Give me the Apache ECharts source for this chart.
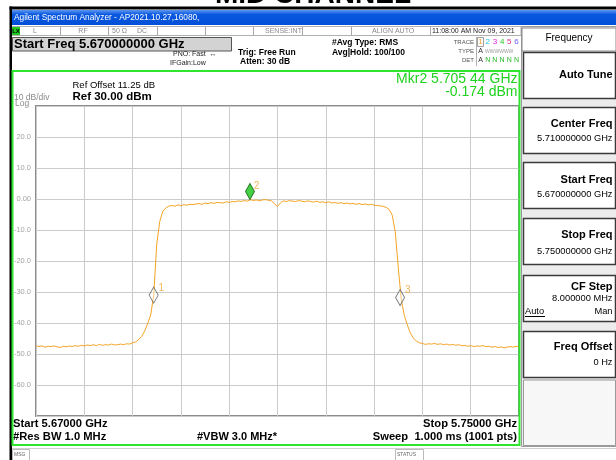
<!DOCTYPE html>
<html><head><meta charset="utf-8">
<script src="https://cdn.jsdelivr.net/npm/echarts@6/dist/echarts.min.js"></script>
<style>html,body{margin:0;padding:0;background:#fff;overflow:hidden}#c{width:616px;height:460px}</style>
</head><body><div id="c"></div>
<script>
// ---- data ----
const sweepStartGHz = 5.67;
const sweepStopGHz = 5.75;
const pointSpacingGHz = 0.0005;
const traceLevels = [
 -47.3,-47.6,-47.4,-47.8,-47.5,-47.6,-47.4,-47.7,-47.9,-47.5,
 -47.7,-47.4,-47.6,-47.3,-47.5,-47.2,-47.4,-47.1,-47.3,-47.0,
 -47.3,-46.9,-47.2,-47.0,-47.1,-46.8,-47.1,-47.0,-46.8,-47.0,
 -46.7,-46.8,-46.4,-46.1,-45.4,-44.3,-42.6,-40.2,-37.4,-31.0,
 -14.5,-7.2,-4.0,-2.9,-2.3,-2.1,-2.3,-1.9,-2.2,-1.8,
 -2.0,-1.7,-1.8,-1.6,-1.5,-1.7,-1.3,-1.5,-1.2,-1.4,
 -1.1,-1.2,-1.3,-0.9,-1.1,-0.8,-0.9,-0.6,-0.8,-0.5,
 -0.7,-0.2,-0.5,-0.3,-0.6,-0.3,-0.2,-0.4,-0.6,-1.5,
 -2.4,-1.2,-0.6,-0.8,-0.5,-0.7,-0.8,-0.5,-0.7,-0.9,
 -0.6,-0.8,-1.0,-0.7,-1.1,-0.9,-1.2,-0.9,-1.3,-1.1,
 -1.4,-1.2,-1.5,-1.3,-1.6,-1.4,-1.7,-1.5,-1.8,-1.6,
 -1.9,-1.7,-2.0,-2.1,-2.2,-2.4,-2.7,-3.4,-5.2,-10.5,
 -22.0,-32.5,-37.5,-40.6,-43.2,-44.9,-45.8,-46.4,-46.6,-46.9,
 -46.7,-46.8,-46.6,-46.9,-46.7,-47.0,-46.8,-47.1,-46.9,-47.2,
 -47.0,-47.3,-47.2,-47.5,-47.3,-47.6,-47.4,-47.5,-47.3,-47.6,
 -47.5,-47.8,-47.6,-47.9,-47.7,-48.0,-47.8,-47.6,-47.8,-47.5,
 -47.6
];
const markerFreqs = [5.68949, 5.70544, 5.73030];
const markerLevels = [-31.0, -0.174, -31.8];
const markerNames = ['1', '2', '3'];
const yTickValues = [30, 20, 10, 0, -10, -20, -30, -40, -50, -60, -70];
const yTickLabels = ['', '20.0', '10.0', '0.00', '-10.0', '-20.0', '-30.0', '-40.0', '-50.0', '-60.0', ''];

// ---- build ----
const traceData = traceLevels.map((v, i) => [sweepStartGHz + i * pointSpacingGHz, v]);
const FONT = '"Liberation Sans", Arial, sans-serif';
function T(text, x, y, size, o) {
  o = o || {};
  return {type: 'text', x: x, y: y, z: o.z || 30, silent: true,
    style: {text: text, fill: o.color || '#000', font: (o.bold ? 'bold ' : '') + size + 'px ' + FONT,
      align: o.align || 'left', verticalAlign: 'middle'}};
}
function R(x, y, w, h, fill, stroke, lw, z) {
  return {type: 'rect', z: z || 5, silent: true, shape: {x: x, y: y, width: w, height: h},
    style: {fill: fill || 'none', stroke: stroke || 'none', lineWidth: lw || 1}};
}
function L(x1, y1, x2, y2, stroke, lw, z) {
  return {type: 'line', z: z || 6, silent: true, shape: {x1: x1, y1: y1, x2: x2, y2: y2},
    style: {stroke: stroke, lineWidth: lw || 1}};
}

const g = [];
// top title strip
g.push(T('MID CHANNEL', 313, -5, 28, {bold: true, align: 'center'}));
g.push(R(9.5, 6.5, 607, 3, '#000', null, 1, 8));
g.push(R(9.5, 6.5, 2.5, 454, '#000', null, 1, 8));
g.push({type: 'rect', z: 5, silent: true, shape: {x: 12, y: 10, width: 604, height: 15},
  style: {fill: {type: 'linear', x: 0, y: 0, x2: 0, y2: 1, colorStops: [
    {offset: 0, color: '#5c97f2'}, {offset: 0.3, color: '#0a58e0'}, {offset: 1, color: '#004fd6'}]}}});
g.push(T('Agilent Spectrum Analyzer - AP2021.10.27,16080,', 14, 17.5, 8.3, {color: '#fff'}));
// status row
g.push(R(12, 26.5, 509, 9, '#fff', '#b0b0b0', 1));
[60, 108, 157, 205, 253, 302, 351, 430].forEach(x => g.push(L(x + 0.5, 27, x + 0.5, 35.5, '#a8a8a8', 1)));
g.push(R(12, 27, 8, 8, '#22c822'));
g.push(T('LX', 16, 31.5, 6, {bold: true, align: 'center'}));
g.push(T('L', 35, 31.5, 7, {color: '#8a8a8a', align: 'center'}));
g.push(T('RF', 83, 31.5, 7, {color: '#8a8a8a', align: 'center'}));
g.push(T('50 Ω', 112, 31.5, 7, {color: '#8a8a8a'}));
g.push(T('DC', 137, 31.5, 7, {color: '#8a8a8a'}));
g.push(T('SENSE:INT', 265, 31.5, 7, {color: '#8a8a8a'}));
g.push(T('ALIGN AUTO', 372, 31.5, 7, {color: '#8a8a8a'}));
g.push(T('11:08:00 AM Nov 09, 2021', 432, 31.5, 7, {color: '#222'}));
// start freq box
g.push(R(12.5, 37.5, 219, 13.5, '#d3d3d3', '#555', 1));
g.push(T('Start Freq 5.670000000 GHz', 14, 44.5, 13, {bold: true}));
g.push(T('PNO: Fast  ↔', 173, 54.5, 7, {color: '#222'}));
g.push(T('IFGain:Low', 170, 63, 7, {color: '#222'}));
g.push(T('Trig: Free Run', 238, 52.5, 8.5, {bold: true}));
g.push(T('Atten: 30 dB', 240, 62, 8.5, {bold: true}));
g.push(T('#Avg Type: RMS', 332, 42.5, 8.5, {bold: true}));
g.push(T('Avg|Hold: 100/100', 332, 52.5, 8.5, {bold: true}));
g.push(T('TRACE', 474, 42, 6, {color: '#555', align: 'right'}));
g.push(T('TYPE', 474, 51.5, 6, {color: '#555', align: 'right'}));
g.push(T('DET', 474, 60.5, 6, {color: '#555', align: 'right'}));
g.push(L(476.5, 37, 476.5, 66, '#b0b0b0', 1));
g.push(R(477.5, 37.5, 6, 9, null, '#a0a0a0', 1));
const trCols = ['#f0a020', '#18c8d8', '#e020e0', '#28c828', '#e0308a', '#6a5cff'];
trCols.forEach((c, i) => g.push(T(String(i + 1), 480.5 + i * 7.2, 42, 8, {color: c, align: 'center'})));
g.push(T('A', 480.5, 51.5, 7, {color: '#333', align: 'center'}));
g.push(T('WWWWWW', 485, 51.5, 5, {color: '#9a9a9a'}));
g.push(T('A', 480.5, 60.5, 7, {color: '#333', align: 'center'}));
[0, 1, 2, 3, 4].forEach(i => g.push(T('N', 487.7 + i * 7.2, 60.5, 7, {color: '#22b822', align: 'center'})));
// ref / marker text
g.push(T('Ref Offset 11.25 dB', 72.5, 85.5, 9.5));
g.push(T('Ref 30.00 dBm', 72.5, 96.5, 11.5, {bold: true}));
g.push(T('10 dB/div', 14, 98, 8.5, {color: '#8a8a8a'}));
g.push(T('Log', 15, 104, 8.5, {color: '#8a8a8a'}));
g.push(T('Mkr2 5.705 44 GHz', 517.5, 79, 14, {color: '#1ed21e', align: 'right'}));
g.push(T('-0.174 dBm', 517.5, 92, 14, {color: '#1ed21e', align: 'right'}));
// bottom annotations
g.push(T('Start 5.67000 GHz', 13, 424, 11.2, {bold: true}));
g.push(T('#Res BW 1.0 MHz', 13, 437, 11.2, {bold: true}));
g.push(T('#VBW 3.0 MHz*', 197, 437, 11, {bold: true}));
g.push(T('Stop 5.75000 GHz', 517, 424, 11.2, {bold: true, align: 'right'}));
g.push(T('Sweep  1.000 ms (1001 pts)', 517, 437, 11.2, {bold: true, align: 'right'}));
// green frame
g.push(R(12.5, 71, 507, 374, null, '#2ee62e', 2, 50));
// msg/status
g.push(L(12, 448.5, 616, 448.5, '#cfcfcf', 1));
g.push(R(12.5, 449.5, 17, 11, null, '#bbb', 1));
g.push(T('MSG', 14, 455, 5, {color: '#666'}));
g.push(R(395.5, 449.5, 28, 11, null, '#bbb', 1));
g.push(T('STATUS', 397, 455, 5, {color: '#666'}));
// softkey panel
g.push(R(521.5, 26.5, 95, 420, '#ececec', '#9a9a9a', 1));
g.push(R(522, 28, 94, 23, '#fff', '#8a8a8a', 1));
g.push(T('Frequency', 569, 38, 10, {align: 'center'}));
const keyTops = [52, 107, 162, 218, 275, 331];
keyTops.forEach(t => g.push(R(523.5, t + 0.5, 92, 46, '#fff', '#3a3a3a', 1.5, 7)));
g.push(R(523.5, 380, 92, 65.5, '#f7f7f7', '#9a9a9a', 1, 7));
const KX = 612.5;
g.push(T('Auto Tune', KX, 75, 11, {bold: true, align: 'right'}));
g.push(T('Center Freq', KX, 124, 11, {bold: true, align: 'right'}));
g.push(T('5.710000000 GHz', KX, 138, 9.3, {align: 'right'}));
g.push(T('Start Freq', KX, 180, 11, {bold: true, align: 'right'}));
g.push(T('5.670000000 GHz', KX, 194.5, 9.3, {align: 'right'}));
g.push(T('Stop Freq', KX, 235, 11, {bold: true, align: 'right'}));
g.push(T('5.750000000 GHz', KX, 251, 9.3, {align: 'right'}));
g.push(T('CF Step', KX, 287, 11, {bold: true, align: 'right'}));
g.push(T('8.000000 MHz', KX, 298.5, 9.3, {align: 'right'}));
g.push(T('Auto', 525, 311, 9.3));
g.push(L(525, 316.5, 545, 316.5, '#000', 1, 31));
g.push(T('Man', KX, 311, 9.3, {align: 'right'}));
g.push(T('Freq Offset', KX, 347, 11, {bold: true, align: 'right'}));
g.push(T('0 Hz', KX, 362, 9.3, {align: 'right'}));

const mkData = markerFreqs.map((f, i) => ({
  value: [f, markerLevels[i]],
  name: markerNames[i],
  symbolOffset: i === 1 ? [0, -8] : [0, 0],
  itemStyle: i === 1 ? {color: '#18c418', borderColor: '#0b5e0b', borderWidth: 1}
                     : {color: 'rgba(255,255,255,0.5)', borderColor: '#5a5a5a', borderWidth: 1},
  label: {offset: i === 1 ? [-2, -5] : [-1, -7]}
}));

const chart = echarts.init(document.getElementById('c'), null, {renderer: 'canvas'});
chart.setOption({
  animation: false,
  backgroundColor: '#fff',
  grid: {left: 36, top: 106, width: 483, height: 310, show: true, backgroundColor: '#fff',
    borderColor: '#8c8c8c', borderWidth: 2, containLabel: false},
  xAxis: [
    {type: 'value', min: sweepStartGHz, max: sweepStopGHz, show: false},
    {type: 'value', min: 0, max: 10, interval: 1, axisLine: {show: false}, axisTick: {show: false},
      axisLabel: {show: false}, splitLine: {show: true, lineStyle: {color: '#cbcbcb', width: 1}}}
  ],
  yAxis: {type: 'value', min: -70, max: 30, interval: 10,
    axisLine: {show: false}, axisTick: {show: false},
    axisLabel: {color: '#a5a5a5', fontSize: 7.5, fontFamily: FONT, margin: 5,
      formatter: v => { const k = yTickValues.indexOf(Math.round(v)); return k >= 0 ? yTickLabels[k] : ''; }},
    splitLine: {lineStyle: {color: '#cbcbcb', width: 1}}},
  series: [
    {type: 'line', xAxisIndex: 0, data: traceData, showSymbol: false, symbol: 'none',
      lineStyle: {color: '#f5a425', width: 1}, z: 3, silent: true},
    {type: 'scatter', xAxisIndex: 0, data: mkData, symbol: 'diamond', symbolSize: [9, 16], z: 4,
      label: {show: true, position: 'right', distance: 1, formatter: p => p.name,
        color: '#f0a030', fontSize: 10, fontFamily: FONT}, silent: true}
  ],
  graphic: {elements: g}
});
</script></body></html>
